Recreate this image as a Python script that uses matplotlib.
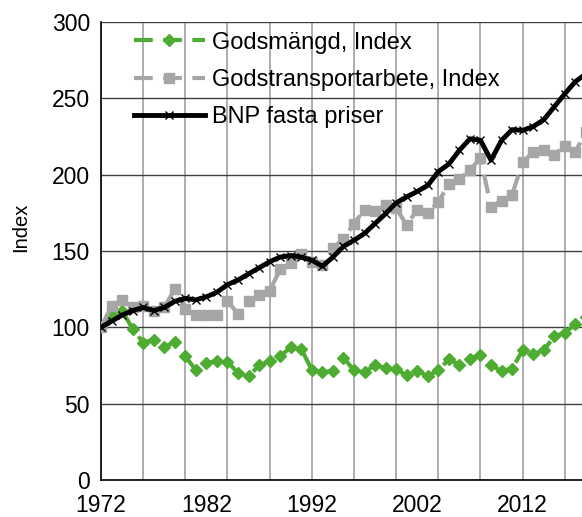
import numpy as np
from matplotlib import pyplot as plt

plt.rcParams['font.family'] = ['Liberation Sans', 'DejaVu Sans']

years = np.arange(1972, 2019)

godsmangd = [100, 108, 111, 99, 90, 92, 87, 90.5,
             81, 72, 76.5, 78, 77.5, 70, 68, 75, 78, 81,
             87, 86, 72, 70.5, 71.5, 80, 72, 71, 75, 73.5,
             72.5, 68.5, 71.5, 68, 72, 79, 75.5, 79.5, 82, 75,
             71.5, 73, 85, 82.5, 85, 94, 96.5, 102, 107]

godstransport = [100, 114, 118, 113, 114, 111, 113, 125,
                 112, 108, 108, 108, 117, 109, 117, 121, 124, 138,
                 142, 148, 143, 141, 152, 158, 168, 177, 176, 180,
                 178, 167, 177, 175, 182, 194, 197, 203, 211, 179,
                 183, 187, 208, 215, 216, 213, 219, 215, 228]

bnp = [100, 104, 108, 111, 113, 111, 113, 117,
       119, 118, 120, 123, 128, 131, 135, 139, 143, 146,
       147, 146, 144, 140, 146, 153, 157, 161.5, 168, 174.5,
       181.5, 185.5, 189, 193, 202, 207, 216, 223.5, 222.5, 209.5,
       222.5, 229.5, 229, 231.5, 236, 244.5, 253, 261, 266]

labels = ['Godsmängd, Index', 'Godstransportarbete, Index', 'BNP fasta priser']
label_years = [1972, 1982, 1992, 2002, 2012]
grid_years = np.arange(1972, 2017, 4)

fig = plt.figure(figsize=(5.82, 5.17), dpi=100)
ax = fig.add_axes([0.1735, 0.0716, 0.8265, 0.8858])

ax.plot(years, godsmangd, color='#4EAC33', lw=3, dashes=(4.5, 2.5),
        marker='D', markersize=6.5, label=labels[0], zorder=3)
ax.plot(years, godstransport, color='#A6A6A6', lw=3, dashes=(4.5, 2.5),
        marker='s', markersize=7.5, label=labels[1], zorder=3)
ax.plot(years, bnp, color='black', lw=3.5, marker='x', markersize=6,
        mew=1, label=labels[2], zorder=4)

ax.set_xlim(1972, 2017.63)
ax.set_ylim(0, 300)
ax.set_yticks(np.arange(0, 301, 50))
ax.set_xticks(label_years)
ax.set_xticks(grid_years, minor=True)
ax.xaxis.remove_overlapping_locs = False
ax.tick_params(axis='both', which='both', length=0, labelsize=16.5)
ax.tick_params(axis='x', pad=10)
ax.tick_params(axis='y', pad=8)

ax.grid(axis='x', which='minor', color='#A0A0A0', lw=1.2)
ax.grid(axis='y', which='major', color='#404040', lw=1.0)
ax.set_axisbelow(True)

for s in ['top', 'right']:
    ax.spines[s].set_visible(False)
ax.spines['left'].set_linewidth(1.2)
ax.spines['bottom'].set_linewidth(1.2)

ax.set_ylabel('Index', fontsize=14.5)
ax.yaxis.set_label_coords(-0.148, 0.552)

ax.legend(loc='upper left', bbox_to_anchor=(0.068, 0.979), frameon=False,
          fontsize=17, handlelength=3.0, handletextpad=0.3,
          labelspacing=0.65, borderpad=0, borderaxespad=0)

plt.savefig('out.png', dpi=100)
